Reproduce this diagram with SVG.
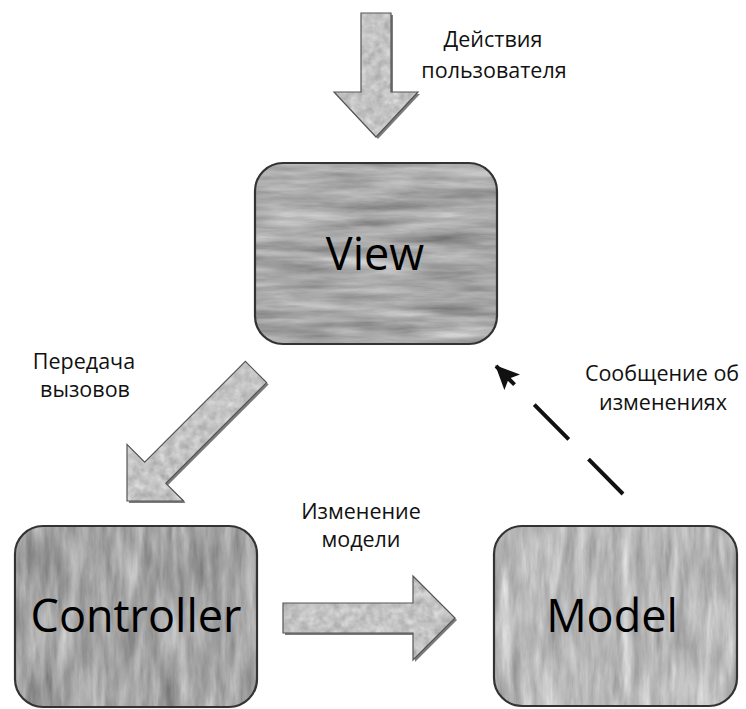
<svg xmlns="http://www.w3.org/2000/svg" width="746" height="709" viewBox="0 0 746 709">
  <style>
    .box-edge { fill: none; stroke: #333; stroke-width: 2.2; }
    .title { font-family: "Open Sans", "DejaVu Sans", sans-serif; font-size: 45px; fill: #000; text-anchor: middle; }
    .label { font-family: "Open Sans", "DejaVu Sans", sans-serif; font-size: 21.5px; fill: #111; text-anchor: middle; }
    .block-arrow { fill: #c4c4c4; }
    .block-edge { fill: none; stroke: #555; stroke-width: 1.2; stroke-linejoin: miter; }
    .arrow-shadow { fill: #444; opacity: 0.7; }
    .dashed { fill: none; stroke: #111; stroke-width: 4; stroke-dasharray: 49 28; }
  </style>
  <defs>
    <!-- mottled grey texture for the component boxes -->
    <filter id="tex-h" x="0" y="0" width="1" height="1" color-interpolation-filters="sRGB">
      <feTurbulence type="fractalNoise" baseFrequency="0.012 0.09" numOctaves="5" seed="4" result="noise"/>
      <feColorMatrix in="noise" type="matrix" values="0.33 0.33 0.33 0 0  0.33 0.33 0.33 0 0  0.33 0.33 0.33 0 0  0 0 0 0 1" result="grey"/>
      <feComposite in="SourceGraphic" in2="grey" operator="arithmetic" k1="0" k2="1" k3="0.7" k4="-0.35" result="mix"/>
      <feComposite in="mix" in2="SourceGraphic" operator="in"/>
    </filter>
    <filter id="tex-v" x="0" y="0" width="1" height="1" color-interpolation-filters="sRGB">
      <feTurbulence type="fractalNoise" baseFrequency="0.09 0.015" numOctaves="5" seed="11" result="noise"/>
      <feColorMatrix in="noise" type="matrix" values="0.33 0.33 0.33 0 0  0.33 0.33 0.33 0 0  0.33 0.33 0.33 0 0  0 0 0 0 1" result="grey"/>
      <feComposite in="SourceGraphic" in2="grey" operator="arithmetic" k1="0" k2="1" k3="0.7" k4="-0.35" result="mix"/>
      <feComposite in="mix" in2="SourceGraphic" operator="in"/>
    </filter>
    <filter id="tex-soft" x="0" y="0" width="1" height="1" color-interpolation-filters="sRGB">
      <feTurbulence type="fractalNoise" baseFrequency="0.12" numOctaves="3" seed="2" result="noise"/>
      <feColorMatrix in="noise" type="matrix" values="0.33 0.33 0.33 0 0  0.33 0.33 0.33 0 0  0.33 0.33 0.33 0 0  0 0 0 0 1" result="grey"/>
      <feComposite in="SourceGraphic" in2="grey" operator="arithmetic" k1="0" k2="1" k3="0.45" k4="-0.225" result="mix"/>
      <feComposite in="mix" in2="SourceGraphic" operator="in"/>
    </filter>
    <marker id="head" viewBox="0 0 24 22" refX="23" refY="11" markerWidth="24" markerHeight="22" markerUnits="userSpaceOnUse" orient="auto">
      <path d="M0,0 L24,11 L0,22 L5,11 Z" fill="#111"/>
    </marker>
  </defs>

  <!-- user input arrow -->
  <g id="input-arrow">
    <polygon class="arrow-shadow" points="363,15 393,15 393,94 420,94 378,139 336,94 363,94"/>
    <polygon class="block-arrow" filter="url(#tex-soft)" points="361,13 391,13 391,92 418,92 376,137 334,92 361,92"/>
    <polygon class="block-edge" points="361,13 391,13 391,92 418,92 376,137 334,92 361,92"/>
    <text class="label" x="493" y="47">Действия</text>
    <text class="label" x="494" y="78">пользователя</text>
  </g>

  <!-- View -->
  <g id="view">
    <rect x="255" y="163" width="242" height="181" rx="28" fill="#a8a8a8" filter="url(#tex-h)"/>
    <rect class="box-edge" x="255" y="163" width="242" height="181" rx="28"/>
    <text class="title" x="375" y="270">View</text>
  </g>

  <!-- Controller -->
  <g id="controller">
    <rect x="15" y="526" width="242" height="181" rx="28" fill="#a5a5a5" filter="url(#tex-v)"/>
    <rect class="box-edge" x="15" y="526" width="242" height="181" rx="28"/>
    <text class="title" x="136" y="632">Controller</text>
  </g>

  <!-- Model -->
  <g id="model">
    <rect x="494" y="526" width="243" height="180" rx="28" fill="#bababa" filter="url(#tex-v)"/>
    <rect class="box-edge" x="494" y="526" width="243" height="180" rx="28"/>
    <text class="title" x="612" y="632">Model</text>
  </g>

  <g id="connectors">
    <!-- View to Controller: forwarding calls -->
    <g id="view-to-controller">
      <polygon class="arrow-shadow" points="247.4,363.4 268.6,384.6 167.9,485.3 185.6,503 129,503 129,446.4 146.7,464.1"/>
      <polygon class="block-arrow" filter="url(#tex-soft)" points="245.4,361.4 266.6,382.6 165.9,483.3 183.6,501 127,501 127,444.4 144.7,462.1"/>
      <polygon class="block-edge" points="245.4,361.4 266.6,382.6 165.9,483.3 183.6,501 127,501 127,444.4 144.7,462.1"/>
      <text class="label" x="84" y="369">Передача</text>
      <text class="label" x="85" y="397">вызовов</text>
    </g>

    <!-- Controller to Model: model update -->
    <g id="controller-to-model">
      <polygon class="arrow-shadow" points="285,605 415,605 415,578 457,620 415,662 415,635 285,635"/>
      <polygon class="block-arrow" filter="url(#tex-soft)" points="283,603 413,603 413,576 455,618 413,660 413,633 283,633"/>
      <polygon class="block-edge" points="283,603 413,603 413,576 455,618 413,660 413,633 283,633"/>
      <text class="label" x="361" y="519">Изменение</text>
      <text class="label" x="361" y="547">модели</text>
    </g>

    <!-- Model to View: change notification -->
    <g id="model-to-view">
      <path class="dashed" d="M623,494 L496,366" marker-end="url(#head)"/>
      <text class="label" x="662" y="381">Сообщение об</text>
      <text class="label" x="663" y="410">изменениях</text>
    </g>
  </g>
</svg>
